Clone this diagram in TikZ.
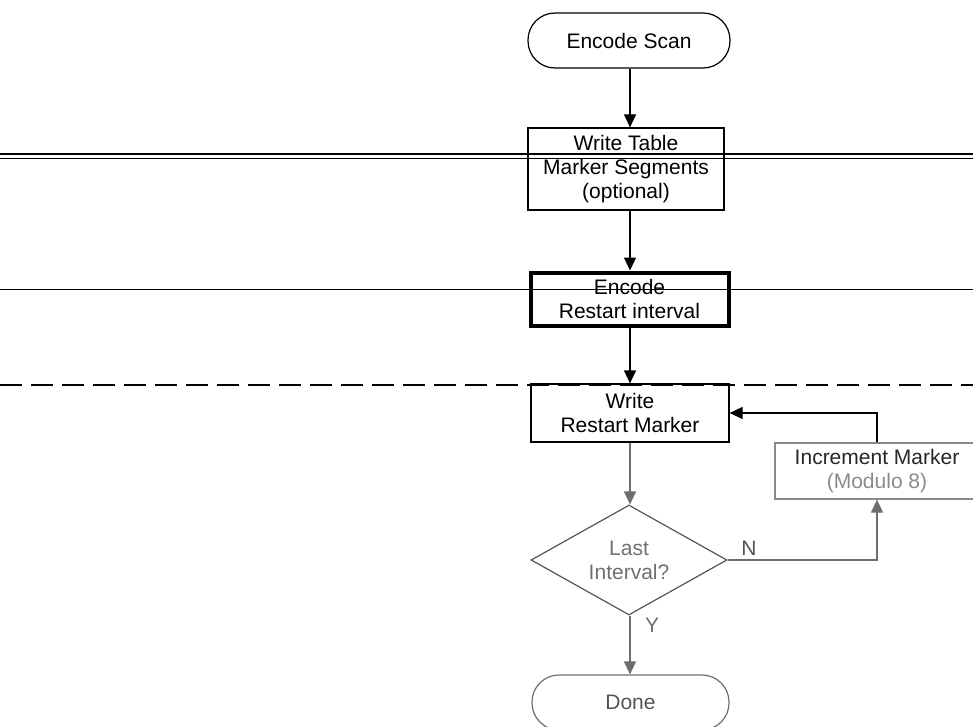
\documentclass[tikz,border=0pt]{standalone}
\usepackage{fontspec}
\setmainfont{Liberation Sans}
\usetikzlibrary{arrows.meta,shapes.geometric}
\definecolor{lgray}{HTML}{6E6E6E}
\definecolor{dgray}{HTML}{555555}
\definecolor{tgray}{HTML}{707070}
\definecolor{mgray}{HTML}{8A8A8A}
\tikzset{
  base/.style={font=\fontsize{21}{24}\selectfont, align=center, inner sep=0pt},
  procbox/.style={base, draw, line width=1.2pt, rectangle},
  termbox/.style={base, draw, line width=1.2pt, rectangle, rounded corners=27pt},
  arr/.style={line width=1.2pt, -{Triangle[length=13pt,width=12pt]}},
  scanline/.style={line width=1pt}
}
\begin{document}
\begin{tikzpicture}[x=1pt,y=-1pt]
\useasboundingbox (0,0) rectangle (973,727);
\clip (0,0) rectangle (973,727);
% scan lines
\draw[scanline, line width=2.6pt] (0,154) -- (973,154);
\draw[scanline] (0,158.5) -- (973,158.5);
\draw[scanline] (0,289.5) -- (973,289.5);
\draw[scanline, line width=1.5pt, dash pattern=on 22pt off 9pt] (0,385) -- (973,385);
% nodes
\node[termbox, minimum width=202pt, minimum height=55pt] (scan) at (629,40.5) {Encode Scan};
\node[procbox, minimum width=196pt, minimum height=82pt] (table) at (626,169) {Write Table\\Marker Segments\\(optional)};
\node[procbox, line width=4pt, minimum width=198pt, minimum height=53pt] (enc) at (629.5,299) {Encode\\Restart interval};
\node[procbox, minimum width=198pt, minimum height=58pt] (wrm) at (630,413) {Write\\Restart Marker};
\node[procbox, draw=mgray, text=black!85, minimum width=204pt, minimum height=56pt] (inc) at (877,471) {Increment Marker\\\textcolor{mgray}{(Modulo 8)}};
\node[diamond, draw=dgray, line width=1.2pt, minimum width=196pt, minimum height=110pt, inner sep=0pt] (dec) at (629,560) {};
\node[base, text=tgray] (dectext) at (629,560) {Last\\Interval?};
\node[termbox, draw=lgray, text=dgray, minimum width=197pt, minimum height=55pt] (done) at (630.5,702.5) {Done};
\node[base, text=dgray] (nlab) at (749,548) {N};
\node[base, text=tgray] (ylab) at (652,625) {Y};
% connectors
\draw[arr] (wrm.north |- scan.south) -- (wrm.north |- table.north);
\draw[arr] (wrm.north |- table.south) -- (wrm.north |- enc.north);
\draw[arr] (wrm.north |- enc.south) -- (wrm.north);
\draw[arr, lgray] (wrm.south) -- (wrm.south |- dec.north);
\draw[arr, lgray] (dec.south -| wrm.south) -- (wrm.south |- done.north);
\draw[arr, lgray] (dec.east) -| (inc.south);
\draw[arr] (inc.north) |- (wrm.east);
\end{tikzpicture}
\end{document}
